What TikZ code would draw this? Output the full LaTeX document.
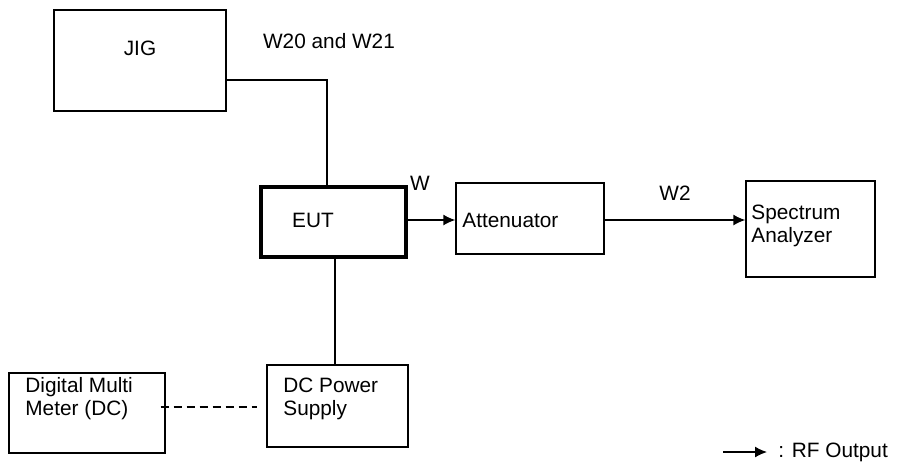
\documentclass[tikz,border=0pt]{standalone}
\usepackage{fontspec}
\setmainfont{Liberation Sans}
\usetikzlibrary{arrows.meta,calc}
\begin{document}
\begin{tikzpicture}[x=0.5pt,y=-0.5pt,
  box/.style={draw, line width=0.7pt, inner sep=0pt},
  thickbox/.style={draw, line width=2pt, inner sep=0pt},
  txt/.style={inner sep=0pt, font=\fontsize{10.4}{11.5}\selectfont},
  ltxt/.style={txt, anchor=west, align=left},
  wire/.style={line width=0.7pt},
  rf/.style={line width=0.7pt, -{Latex[length=6pt,width=5.5pt]}},
  dashwire/.style={line width=0.6pt, dash pattern=on 4pt off 2.5pt}]
\useasboundingbox (0,0) rectangle (903,473);
% boxes
\node[box, minimum width=86pt, minimum height=50.5pt] (JIG) at (140,60.5) {};
\node[txt] (JIGt) at (140,48) {JIG};
\node[thickbox, minimum width=72.5pt, minimum height=35pt] (EUT) at (333.5,222) {};
\node[txt] (EUTt) at (313,220) {EUT};
\node[box, minimum width=74pt, minimum height=35.5pt] (ATT) at (530,218.5) {};
\node[ltxt] (ATTt) at (462,220) {Attenuator};
\node[box, minimum width=64.5pt, minimum height=48pt] (SA) at (810.5,229) {};
\node[ltxt] (SAt) at (751,225.5) {Spectrum\\Analyzer};
\node[box, minimum width=78pt, minimum height=40pt] (DMM) at (87,413) {};
\node[ltxt] (DMMt) at (25,399) {Digital Multi\\Meter (DC)};
\node[box, minimum width=70.5pt, minimum height=41pt] (DC) at (337.5,406) {};
\node[ltxt] (DCt) at (283,398.5) {DC Power\\Supply};
% labels
\node[txt] (L1) at (329,41) {W20 and W21};
\node[txt] (L2) at (420,183) {W};
\node[txt] (L3) at (675,193) {W2};
% connectors
\coordinate (j) at (327,80);
\draw[wire] (JIG.east |- j) -- (j) -- (j |- EUT.north);
\coordinate (ea) at (406,220);
\draw[rf] (EUT.east |- ea) -- (ATT.west |- ea);
\draw[rf] (ATT.east |- ea) -- (SA.west |- ea);
\coordinate (dv) at (335,300);
\draw[wire] (EUT.south -| dv) -- (DC.north -| dv);
\coordinate (dh) at (200,407);
\draw[dashwire] ([xshift=-2.5pt]DMM.east |- dh) -- ([xshift=-4.5pt]DC.west |- dh);
% legend
\coordinate (la) at (723,452);
\coordinate (lb) at (767,452);
\draw[rf] (la) -- (lb);
\node[ltxt] (LG) at (778,452) {: RF Output};
\end{tikzpicture}
\end{document}
